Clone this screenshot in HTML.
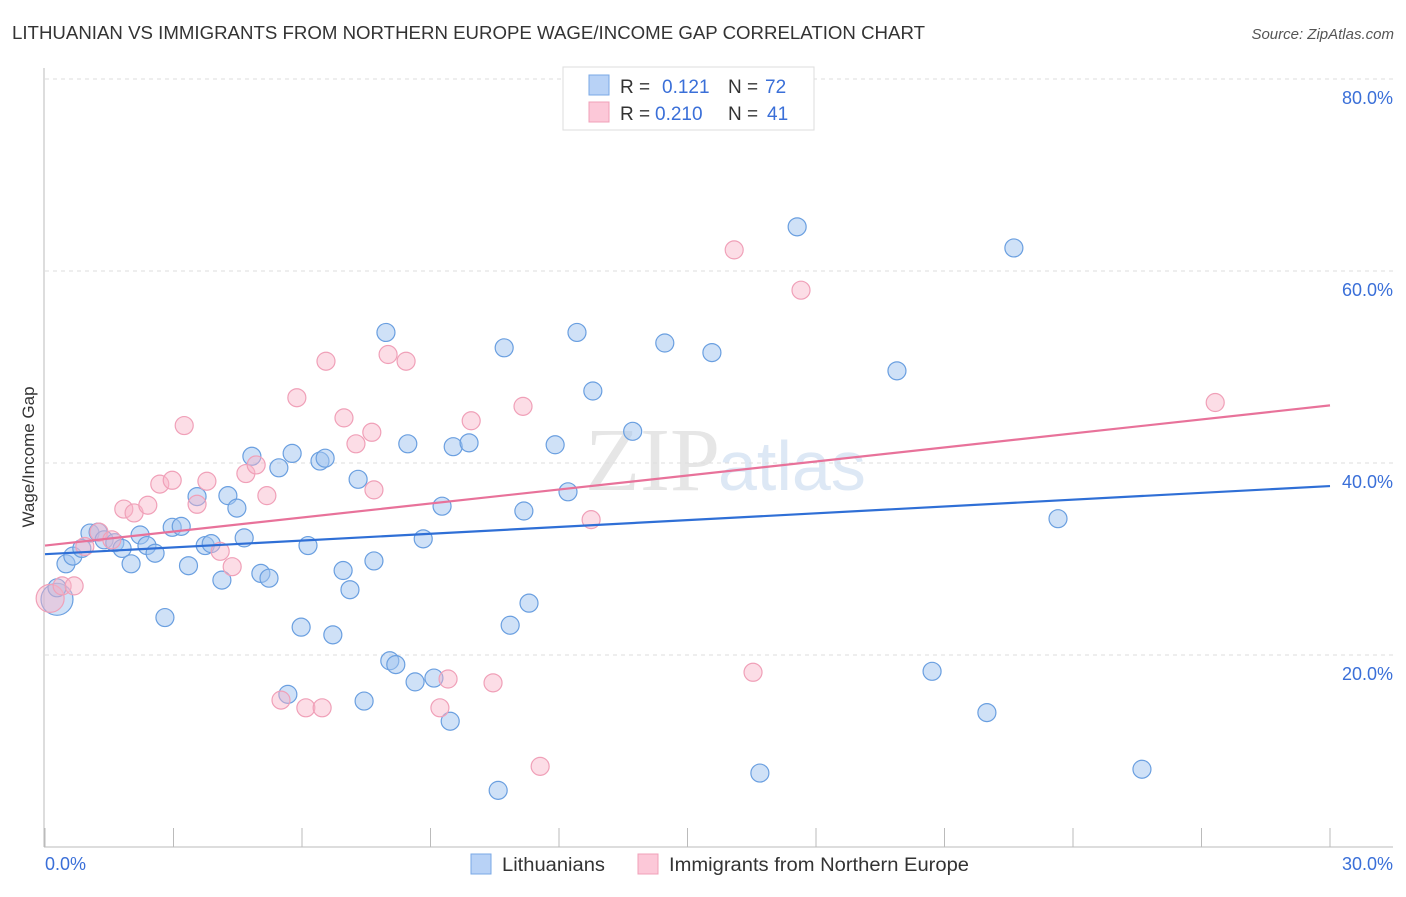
<!DOCTYPE html>
<html><head><meta charset="utf-8"><style>
body{margin:0;background:#fff;font-family:"Liberation Sans",sans-serif}
</style></head><body>
<svg id="chart" width="1406" height="892" xmlns="http://www.w3.org/2000/svg" font-family="Liberation Sans, sans-serif">
<text x="12" y="39" font-size="18" fill="#333" textLength="913" lengthAdjust="spacingAndGlyphs">LITHUANIAN VS IMMIGRANTS FROM NORTHERN EUROPE WAGE/INCOME GAP CORRELATION CHART</text>
<text x="1394" y="39" font-size="15" fill="#555" text-anchor="end" font-style="italic">Source: ZipAtlas.com</text>
<text x="720" y="490" font-size="90" fill="#e6e6e6" text-anchor="end" font-family="Liberation Serif, serif">ZIP</text>
<text x="718" y="490" font-size="70" fill="#dde8f5">atlas</text>
<g id="grid"></g>
<g id="axes"></g>
<g id="pts"></g>
<g id="lines"></g>
<text transform="translate(34,457) rotate(-90)" font-size="17" fill="#333" text-anchor="middle">Wage/Income Gap</text>
<g>
<rect x="563" y="67" width="251" height="63" fill="#fff" stroke="#ddd"/>
<rect x="589" y="75" width="20" height="20" fill="#b8d2f6" stroke="#7aa8e6"/>
<rect x="589" y="102" width="20" height="20" fill="#fcc8d8" stroke="#f0a0b8"/>
<text x="620" y="93" font-size="19" fill="#333">R = </text><text x="662" y="93" font-size="19" fill="#3a6fd8">0.121</text>
<text x="728" y="93" font-size="19" fill="#333">N = </text><text x="765" y="93" font-size="19" fill="#3a6fd8">72</text>
<text x="620" y="120" font-size="19" fill="#333">R = </text><text x="655" y="120" font-size="19" fill="#3a6fd8">0.210</text>
<text x="728" y="120" font-size="19" fill="#333">N = </text><text x="767" y="120" font-size="19" fill="#3a6fd8">41</text>
</g>
<g>
<rect x="471" y="854" width="20" height="20" fill="#b8d2f6" stroke="#7aa8e6"/>
<text x="502" y="871" font-size="19" fill="#333" textLength="103" lengthAdjust="spacingAndGlyphs">Lithuanians</text>
<rect x="638" y="854" width="20" height="20" fill="#fcc8d8" stroke="#f0a0b8"/>
<text x="669" y="871" font-size="19" fill="#333" textLength="300" lengthAdjust="spacingAndGlyphs">Immigrants from Northern Europe</text>
</g>
</svg>
<script>
const blueX=[0.28,0.28,0.49,0.65,0.86,1.05,1.24,1.38,1.63,1.80,2.01,2.22,2.38,2.57,2.80,2.97,3.18,3.35,3.55,3.74,3.88,4.13,4.27,4.48,4.65,4.83,5.04,5.23,5.46,5.67,5.77,5.98,6.14,6.42,6.54,6.72,6.96,7.12,7.31,7.45,7.68,7.96,8.05,8.19,8.47,8.64,8.83,9.08,9.27,9.46,9.53,9.90,10.58,10.72,10.86,11.18,11.30,11.91,12.21,12.42,12.79,13.72,14.47,15.57,16.69,17.56,19.89,20.71,21.99,22.62,23.65,25.61];
const blueY=[25.8,27.0,29.5,30.3,31.1,32.7,32.8,32.0,31.7,31.1,29.5,32.5,31.4,30.6,23.9,33.3,33.4,29.3,36.5,31.4,31.6,27.8,36.6,35.3,32.2,40.7,28.5,28.0,39.5,15.9,41.0,22.9,31.4,40.2,40.5,22.1,28.8,26.8,38.3,15.2,29.8,53.6,19.4,19.0,42.0,17.2,32.1,17.6,35.5,13.1,41.7,42.1,5.9,52.0,23.1,35.0,25.4,41.9,37.0,53.6,47.5,43.3,52.5,51.5,7.7,64.6,49.6,18.3,14.0,62.4,34.2,8.1];
const pinkX=[0.12,0.40,0.68,0.93,1.26,1.56,1.84,2.08,2.40,2.68,2.97,3.25,3.55,3.78,4.09,4.37,4.69,4.93,5.18,5.51,5.88,6.09,6.47,6.56,6.98,7.26,7.63,7.68,8.01,8.43,9.22,9.41,9.95,10.46,11.16,11.56,12.75,16.09,16.53,17.65,27.32];
const pinkY=[25.9,27.2,27.2,31.3,32.8,32.0,35.2,34.8,35.6,37.8,38.2,43.9,35.7,38.1,30.8,29.2,38.9,39.8,36.6,15.3,46.8,14.5,14.5,50.6,44.7,42.0,43.2,37.2,51.3,50.6,14.5,17.5,44.4,17.1,45.9,8.4,34.1,62.2,18.2,58.0,46.3];
const blueTrend=[30.5,37.6];
const pinkTrend=[31.4,46.0];
const yTicks=[20,40,60,80];
const xTicks=[0,3,6,9,12,15,18,21,24,27,30];
const NS="http://www.w3.org/2000/svg";
const sx=v=>45+v/30*1285, sy=v=>847-v*9.6;
function mk(t,a,p){const e=document.createElementNS(NS,t);for(const k in a)e.setAttribute(k,a[k]);p.appendChild(e);return e;}
const grid=document.getElementById('grid'),axes=document.getElementById('axes');
yTicks.forEach(v=>{
 const l=mk('line',{x1:45,x2:1393,y1:sy(v),y2:sy(v),stroke:'#ddd','stroke-dasharray':'4,4'},grid);
 
 
 const t=mk('text',{x:1393,y:sy(v)+25,'font-size':18,fill:'#3a6fd8','text-anchor':'end'},axes);
 t.textContent=v.toFixed(1)+'%';
 
 
});
mk('line',{x1:44,x2:44,y1:68,y2:847,stroke:'#bbb'},axes);
mk('line',{x1:44,x2:1393,y1:847,y2:847,stroke:'#bbb'},axes);
xTicks.forEach(v=>{
 const l=mk('line',{x1:sx(v),x2:sx(v),y1:828,y2:847,stroke:'#bbb'},axes);
 
 
});
const t0=mk('text',{x:45,y:870,'font-size':18,fill:'#3a6fd8'},axes);t0.textContent=xTicks[0].toFixed(1)+'%';


const t1=mk('text',{x:1393,y:870,'font-size':18,fill:'#3a6fd8','text-anchor':'end'},axes);t1.textContent=xTicks[xTicks.length-1].toFixed(1)+'%';


const pts=document.getElementById('pts');
blueX.forEach((x,i)=>{
 const c=mk('circle',{cx:sx(x),cy:sy(blueY[i]),r:i<1?16:9,fill:'rgba(160,196,240,0.5)',stroke:'#6a9fe0','stroke-width':1.2},pts);
 
 
});
pinkX.forEach((x,i)=>{
 const c=mk('circle',{cx:sx(x),cy:sy(pinkY[i]),r:i<1?14:9,fill:'rgba(248,180,200,0.45)',stroke:'#f0a0b8','stroke-width':1.2},pts);
 
 
});
const lines=document.getElementById('lines');
const bl=mk('line',{x1:sx(0),x2:sx(30),y1:sy(blueTrend[0]),y2:sy(blueTrend[1]),stroke:'#2f6fd6','stroke-width':2.2},lines);


const pl=mk('line',{x1:sx(0),x2:sx(30),y1:sy(pinkTrend[0]),y2:sy(pinkTrend[1]),stroke:'#e8729a','stroke-width':2.2},lines);


</script>
</body></html>
